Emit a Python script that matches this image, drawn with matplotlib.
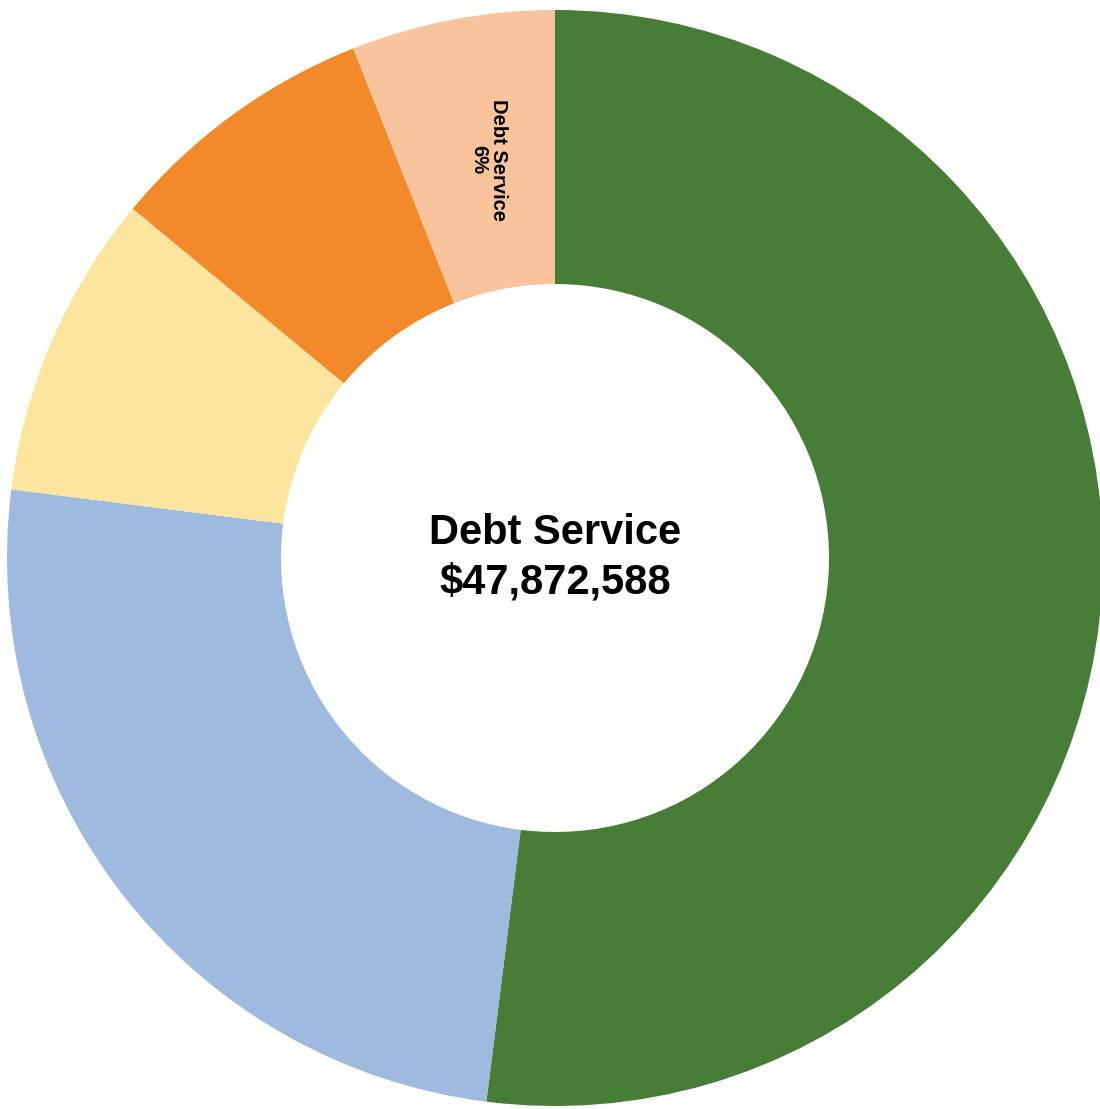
import matplotlib.pyplot as plt
import numpy as np
from matplotlib import font_manager

# share of the budget by category, clockwise from 12 o'clock
shares = [52, 25, 9, 8, 6]
slice_labels = ["", "", "", "", "Debt Service\n6%"]
colors = ["#477d36", "#9fbadf", "#fce69f", "#f2892b", "#f9c39b"]

center_title = "Debt Service"
center_amount = "$47,872,588"

names = {f.name for f in font_manager.fontManager.ttflist}
font = "Liberation Sans Narrow" if "Liberation Sans Narrow" in names else "Liberation Sans"
plt.rcParams['font.family'] = [font, 'DejaVu Sans']

fig = plt.figure(figsize=(11, 11.09), dpi=100)
ax = fig.add_axes([0, 0, 1, 1])

wedges, _ = ax.pie(shares, colors=colors, startangle=90, counterclock=False,
                   radius=1.0, wedgeprops=dict(width=0.5, linewidth=0))

# ring centred at (555, 558) px, radius 548 px
cx, cy, r = 555, 558, 548
ax.set_xlim(-cx / r, (1100 - cx) / r)
ax.set_ylim((cy - 1109) / r, cy / r)
ax.set_aspect('auto')
ax.axis('off')

# slice label written along the radius, nudged toward the slice's right edge
for w, lab in zip(wedges, slice_labels):
    if not lab:
        continue
    mid = np.deg2rad((w.theta1 + w.theta2) / 2)
    ax.text(0.65 * np.cos(mid), 0.74 * np.sin(mid), lab, rotation=-90,
            ha='center', va='center', fontsize=14.5, fontweight='bold',
            linespacing=1.05)

ax.text(0, 0.0, center_title + "\n" + center_amount, ha='center', va='center',
        fontsize=30, fontweight='bold', linespacing=1.3)

fig.savefig("out.png", dpi=100)
